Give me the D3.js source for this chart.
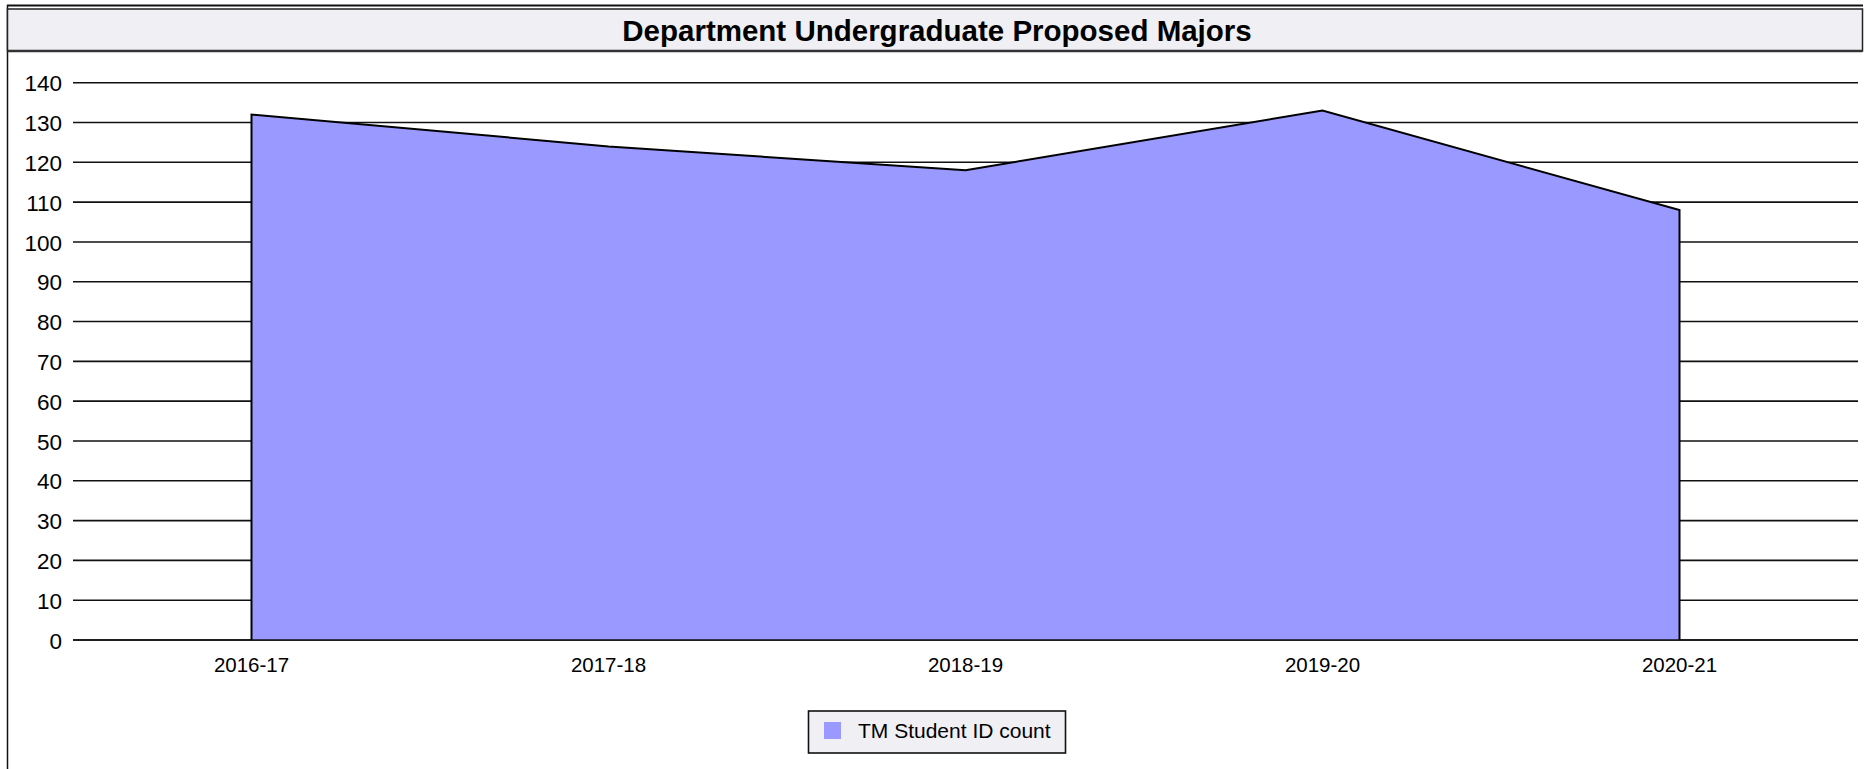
<!DOCTYPE html>
<html>
<head>
<meta charset="utf-8">
<script src="https://cdn.jsdelivr.net/npm/d3@7"></script>
<style>
  html, body { margin: 0; padding: 0; background: #fff; }
  svg { display: block; font-family: Arial, "Liberation Sans", sans-serif; }
</style>
</head>
<body>
<svg id="chart" width="1865" height="769"></svg>
<script>
const title = "Department Undergraduate Proposed Majors";
const categories = ["2016-17", "2017-18", "2018-19", "2019-20", "2020-21"];
const seriesName = "TM Student ID count";
const values = [132, 124, 118, 133, 108];
const yTicks = [0, 10, 20, 30, 40, 50, 60, 70, 80, 90, 100, 110, 120, 130, 140];

const svg = d3.select("#chart");
const W = 1865, H = 769;
const areaColor = "#9999ff";
const panelFill = "#efeff4";

// outer frame: top and left lines
svg.append("line").attr("x1", 7).attr("x2", 1863).attr("y1", 5.5).attr("y2", 5.5)
  .attr("stroke", "#111").attr("stroke-width", 2);
svg.append("line").attr("x1", 7.5).attr("x2", 7.5).attr("y1", 5).attr("y2", H)
  .attr("stroke", "#111").attr("stroke-width", 1.5);

// title box
svg.append("rect").attr("x", 7.5).attr("y", 9).attr("width", 1855).attr("height", 42)
  .attr("fill", panelFill).attr("stroke", "#222").attr("stroke-width", 1.5);
svg.append("line").attr("x1", 7.5).attr("x2", 1862.5).attr("y1", 51).attr("y2", 51)
  .attr("stroke", "#333").attr("stroke-width", 2.5);
svg.append("text").attr("x", 937).attr("y", 41).attr("text-anchor", "middle")
  .attr("font-size", 29.5).attr("font-weight", "bold").attr("fill", "#000")
  .text(title);

const x0 = 73, x1 = 1858, yBottom = 640, yTop = 82.7;
const xBand = d3.scaleBand().domain(categories).range([x0, x1]);
const xPos = c => xBand(c) + xBand.bandwidth() / 2;
const y = d3.scaleLinear().domain([0, 140]).range([yBottom, yTop]);

// gridlines
svg.append("g").selectAll("line").data(yTicks).join("line")
  .attr("x1", x0).attr("x2", x1)
  .attr("y1", d => y(d)).attr("y2", d => y(d))
  .attr("stroke", "#111").attr("stroke-width", 1.6);

// y axis labels
const yAxis = d3.axisLeft(y).tickValues(yTicks).tickSize(0).tickPadding(0);
const yg = svg.append("g").attr("transform", `translate(${x0 - 11},0)`).call(yAxis);
yg.select(".domain").remove();
yg.selectAll("text").attr("font-size", 22.5).attr("fill", "#000")
  .attr("font-family", "Arial, 'Liberation Sans', sans-serif").attr("dy", "0.36em");

// area
const data = categories.map((c, i) => ({ c, v: values[i] }));
const area = d3.area().x(d => xPos(d.c)).y0(y(0)).y1(d => y(d.v));
svg.append("path").datum(data).attr("d", area).attr("fill", areaColor).attr("stroke", "none");
// outline: up first edge, along top, down last edge
const outline = d3.line().x(d => d[0]).y(d => d[1]);
const pts = [[xPos(categories[0]), y(0)]]
  .concat(data.map(d => [xPos(d.c), y(d.v)]))
  .concat([[xPos(categories[categories.length - 1]), y(0)]]);
svg.append("path").attr("d", outline(pts)).attr("fill", "none")
  .attr("stroke", "#000").attr("stroke-width", 2).attr("stroke-linejoin", "miter");
// baseline
svg.append("line").attr("x1", x0).attr("x2", x1).attr("y1", y(0)).attr("y2", y(0))
  .attr("stroke", "#111").attr("stroke-width", 1.6);

// x axis labels
const xAxis = d3.axisBottom(xBand).tickSize(0).tickPadding(0);
const xg = svg.append("g").attr("transform", `translate(0,${yBottom + 17})`).call(xAxis);
xg.select(".domain").remove();
xg.selectAll("text").attr("font-size", 20.5).attr("fill", "#000")
  .attr("font-family", "Arial, 'Liberation Sans', sans-serif");

// legend
const lg = svg.append("g");
lg.append("rect").attr("x", 808.5).attr("y", 711).attr("width", 257).attr("height", 42)
  .attr("fill", panelFill).attr("stroke", "#111").attr("stroke-width", 1.6);
lg.append("rect").attr("x", 824).attr("y", 722).attr("width", 17).attr("height", 17)
  .attr("fill", areaColor);
lg.append("text").attr("x", 858).attr("y", 738).attr("font-size", 21).attr("fill", "#000")
  .text(seriesName);
</script>
</body>
</html>
